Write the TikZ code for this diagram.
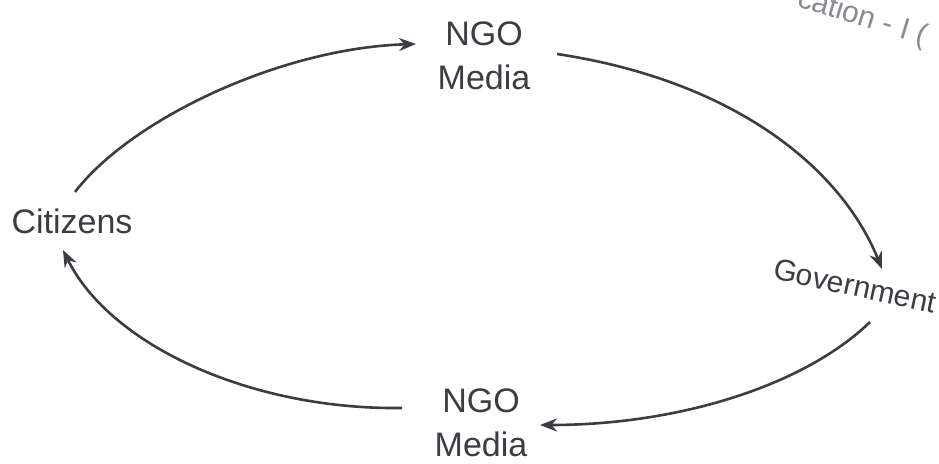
\documentclass[tikz,border=0pt]{standalone}
\usepackage{fontspec}
\setmainfont{Liberation Sans}
\usetikzlibrary{arrows.meta}
\definecolor{ink}{HTML}{3C3C42}
\definecolor{faint}{HTML}{8A8A90}
\tikzset{
  lbl/.style={text=ink, font=\fontsize{34}{44}\selectfont, align=center, inner sep=0pt},
  flow/.style={draw=ink, line width=2.6pt, -{Stealth[length=17pt,width=13pt]}},
}
\begin{document}
\begin{tikzpicture}[x=1pt,y=-1pt]
\clip (0,0) rectangle (939,463);
\fill[white] (0,0) rectangle (939,463);
\node[lbl] (top) at (484,56) {NGO\\Media};
\node[lbl] (cit) at (72,221) {Citizens};
\node[lbl, font=\fontsize{30}{34}\selectfont, rotate=-12] (gov) at (855,286) {Government};
\node[lbl] (bot) at (481,423) {NGO\\Media};
\node[text=faint, font=\fontsize{30}{34}\selectfont, rotate=-17, anchor=base west, inner sep=0pt] (hdr) at (796,6) {cation - I (};
\coordinate (a1s) at (75,192);
\coordinate (a1e) at (416,44);
\coordinate (a2s) at (557,54);
\coordinate (a2e) at (882,269);
\coordinate (a3s) at (870,322);
\coordinate (a3e) at (540,425);
\coordinate (a4s) at (402,408);
\coordinate (a4e) at (63,250);
\draw[flow] (a1s) .. controls (130,120) and (280,48) .. (a1e);
\draw[flow] (a2s) .. controls (730,80) and (840,165) .. (a2e);
\draw[flow] (a3s) .. controls (805,385) and (680,425) .. (a3e);
\draw[flow] (a4s) .. controls (250,410) and (110,345) .. (a4e);
\end{tikzpicture}
\end{document}
